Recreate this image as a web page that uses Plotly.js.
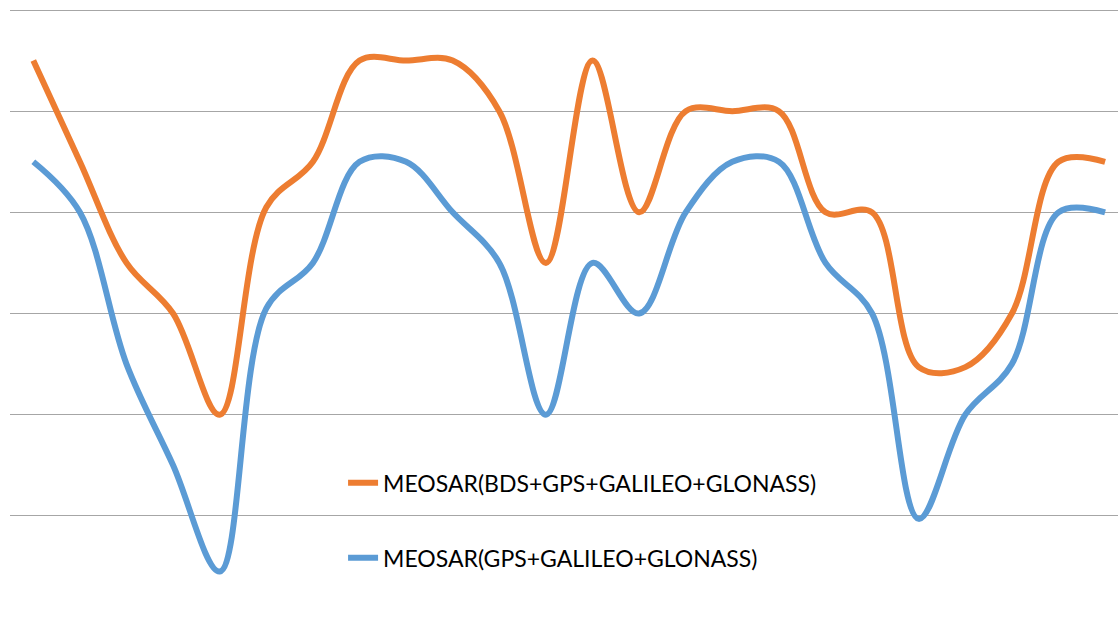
<!DOCTYPE html>
<html>
<head>
<meta charset="utf-8">
<script src="https://cdn.plot.ly/plotly-3.0.1.min.js"></script>
<style>
  html, body { margin: 0; padding: 0; background: #ffffff; }
  #chart { width: 1118px; height: 617px; }
</style>
</head>
<body>
<div id="chart"></div>
<script>
// Category positions (24 samples along the horizontal axis)
const categories = [1,2,3,4,5,6,7,8,9,10,11,12,13,14,15,16,17,18,19,20,21,22,23,24];

// Series values (gridline units)
const seriesBDS = [5.5, 4.5, 3.5, 3, 2, 4.05, 4.5, 5.5, 5.5, 5.5, 5, 3.5, 5.5, 4, 5, 5, 5, 4, 4, 2.47, 2.47, 3, 4.5, 4.5];
const seriesNoBDS = [4.5, 4, 2.5, 1.5, 0.45, 3.05, 3.5, 4.5, 4.5, 4, 3.5, 2, 3.5, 3, 4, 4.5, 4.5, 3.5, 3, 0.97, 2, 2.5, 4, 4];

const nameBDS = "MEOSAR(BDS+GPS+GALILEO+GLONASS)";
const nameNoBDS = "MEOSAR(GPS+GALILEO+GLONASS)";
const gridValues = [1, 2, 3, 4, 5, 6];

const traces = [
  {
    x: categories, y: seriesBDS, name: nameBDS, type: "scatter", mode: "lines",
    line: { color: "#ED7D31", width: 6, shape: "spline", smoothing: 1 },
    legend: "legend", cliponaxis: false
  },
  {
    x: categories, y: seriesNoBDS, name: nameNoBDS, type: "scatter", mode: "lines",
    line: { color: "#5B9BD5", width: 6, shape: "spline", smoothing: 1 },
    legend: "legend2", cliponaxis: false
  }
];

const legendFont = { family: "Lato, 'Liberation Sans', sans-serif", size: 23, color: "#000000" };

const layout = {
  width: 1118, height: 617,
  margin: { l: 10, r: 0, t: 9, b: 0, pad: 0 },
  paper_bgcolor: "#ffffff", plot_bgcolor: "#ffffff",
  showlegend: true,
  xaxis: {
    range: [0.5, 24.277], showgrid: false, zeroline: false, showline: false,
    showticklabels: false, ticks: ""
  },
  yaxis: {
    range: [0, 6.01], tickvals: gridValues, showgrid: true, gridcolor: "#a6a6a6", gridwidth: 1,
    zeroline: false, showline: false, showticklabels: false, ticks: ""
  },
  legend: {
    x: 0.3006, y: 0.2208, xanchor: "left", yanchor: "middle",
    font: legendFont, bgcolor: "rgba(0,0,0,0)", borderwidth: 0
  },
  legend2: {
    x: 0.3006, y: 0.0972, xanchor: "left", yanchor: "middle",
    font: legendFont, bgcolor: "rgba(0,0,0,0)", borderwidth: 0
  }
};

Plotly.newPlot("chart", traces, layout, { displayModeBar: false, staticPlot: true });
</script>
</body>
</html>
